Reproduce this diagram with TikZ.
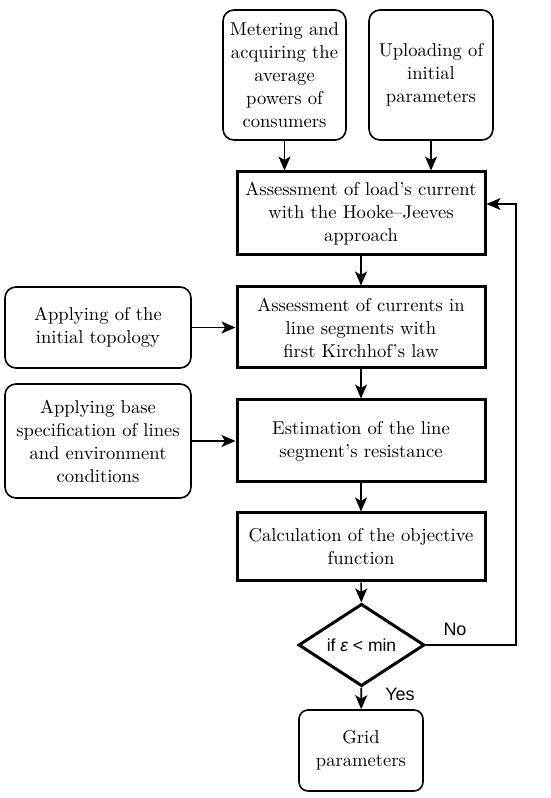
\documentclass[tikz,border=0pt]{standalone}
\usepackage{fontspec}
\setmainfont{lmroman10-regular}[Extension=.otf, BoldFont=lmroman10-bold, ItalicFont=lmroman10-italic]
\newfontfamily\labelfont{Liberation Sans}
\usetikzlibrary{arrows.meta,shapes.geometric}
\tikzset{
  inbox/.style={draw, line width=1.6pt, rounded corners=11pt, align=center,
    inner sep=2pt, font=\fontsize{18.6}{23}\selectfont},
  procbox/.style={draw, line width=3pt, align=center, minimum width=248pt,
    inner sep=2pt, font=\fontsize{18.6}{23}\selectfont},
  decbox/.style={draw, diamond, line width=3pt, minimum width=126pt,
    minimum height=64pt, inner sep=0pt, font=\labelfont\fontsize{17.5}{20}\selectfont},
  flow/.style={line width=1.6pt, -{Stealth[length=14pt,width=12pt,inset=3.5pt]}},
  answer/.style={font=\labelfont\fontsize{18}{21}\selectfont}
}
\begin{document}
\begin{tikzpicture}[x=1pt,y=1pt]
\useasboundingbox (0,0) rectangle (550,798);
% inputs
\node[inbox, minimum width=123pt, minimum height=130pt] (meter) at (284.5,723) {Metering and\\acquiring the\\average\\powers of\\consumers};
\node[inbox, minimum width=124pt, minimum height=130pt] (upload) at (431,723) {Uploading of\\initial\\parameters};
\node[inbox, minimum width=186pt, minimum height=81pt] (topo) at (98,470.5) {Applying of the\\initial topology};
\node[inbox, minimum width=186pt, minimum height=114pt] (base) at (98,357) {Applying base\\specification of lines\\and environment\\conditions};
% main chain
\node[procbox, minimum height=83pt] (hooke) at (361,584.5) {Assessment of load's current\\with the Hooke--Jeeves\\approach};
\node[procbox, minimum height=81pt] (kirch) at (361,470.5) {Assessment of currents in\\line segments with\\first Kirchhof's law};
\node[procbox, minimum height=82pt] (resist) at (361,357) {Estimation of the line\\segment's resistance};
\node[procbox, minimum height=68pt] (objfun) at (361,251) {Calculation of the objective\\function};
\node[decbox] (cond) at (361.5,153) {if {\itshape ε} < min};
\node[inbox, rounded corners=9pt, minimum width=124pt, minimum height=81pt] (grid) at (361,47.5) {Grid\\parameters};
\coordinate (back) at (516,594);
\draw[flow] (meter.south) -- (meter.south |- hooke.north);
\draw[flow] (upload.south) -- (upload.south |- hooke.north);
\draw[flow] (hooke) -- (kirch);
\draw[flow] (kirch) -- (resist);
\draw[flow] (resist) -- (objfun);
\draw[flow] (objfun) -- (cond);
\draw[flow] (cond) -- (grid);
\draw[flow] (topo) -- (kirch);
\draw[flow] (base) -- (resist);
\draw[flow] (cond.east) -- (cond.east -| back) -- (back) -- (back -| hooke.east);
\node[answer] (no) at (455,169) {No};
\node[answer] (yes) at (400,104) {Yes};
\end{tikzpicture}
\end{document}
